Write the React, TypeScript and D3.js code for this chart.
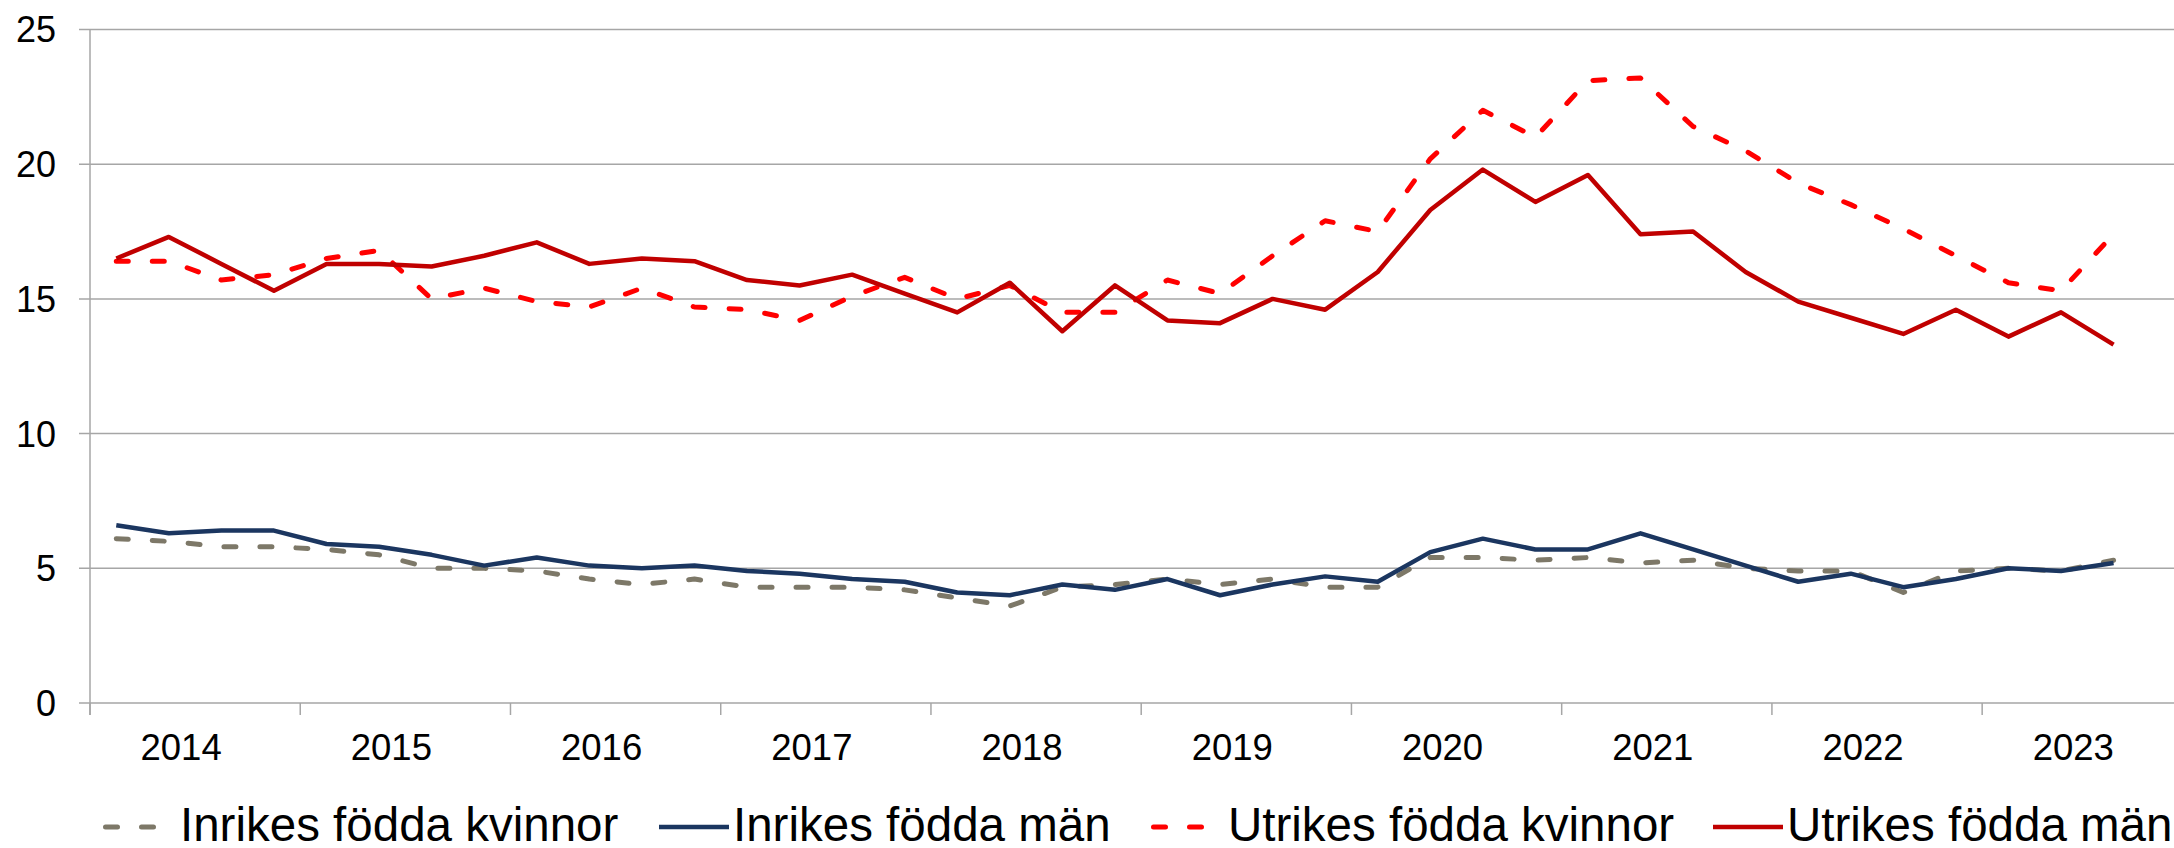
import React, { useEffect } from "react";
import * as d3 from "d3";

// Kvartal 2014 Q1 – 2023 Q3
const years = ["2014", "2015", "2016", "2017", "2018", "2019", "2020", "2021", "2022", "2023"];
const yTicks = [0, 5, 10, 15, 20, 25];

const inrikesKvinnor = [6.1, 6.0, 5.8, 5.8, 5.7, 5.5, 5.0, 5.0, 4.9, 4.6, 4.4, 4.6, 4.3, 4.3, 4.3, 4.2, 3.9, 3.6, 4.3, 4.4, 4.6, 4.4, 4.6, 4.3, 4.3, 5.4, 5.4, 5.3, 5.4, 5.2, 5.3, 5.0, 4.9, 4.9, 4.1, 4.9, 5.0, 4.9, 5.3];
const inrikesMan = [6.6, 6.3, 6.4, 6.4, 5.9, 5.8, 5.5, 5.1, 5.4, 5.1, 5.0, 5.1, 4.9, 4.8, 4.6, 4.5, 4.1, 4.0, 4.4, 4.2, 4.6, 4.0, 4.4, 4.7, 4.5, 5.6, 6.1, 5.7, 5.7, 6.3, 5.7, 5.1, 4.5, 4.8, 4.3, 4.6, 5.0, 4.9, 5.2];
const utrikesKvinnor = [16.4, 16.4, 15.7, 15.9, 16.5, 16.8, 15.0, 15.4, 14.9, 14.7, 15.4, 14.7, 14.6, 14.2, 15.1, 15.8, 15.0, 15.5, 14.5, 14.5, 15.7, 15.2, 16.6, 17.9, 17.5, 20.2, 22.0, 21.0, 23.1, 23.2, 21.4, 20.5, 19.3, 18.5, 17.6, 16.6, 15.6, 15.3, 17.4];
const utrikesMan = [16.5, 17.3, 16.3, 15.3, 16.3, 16.3, 16.2, 16.6, 17.1, 16.3, 16.5, 16.4, 15.7, 15.5, 15.9, 15.2, 14.5, 15.6, 13.8, 15.5, 14.2, 14.1, 15.0, 14.6, 16.0, 18.3, 19.8, 18.6, 19.6, 17.4, 17.5, 16.0, 14.9, 14.3, 13.7, 14.6, 13.6, 14.5, 13.3];

const seriesNames = ["Inrikes födda kvinnor", "Inrikes födda män", "Utrikes födda kvinnor", "Utrikes födda män"];

const W = 2174;
const H = 848;
const font = "'Liberation Sans', Arial, sans-serif";

export default function App() {
  useEffect(() => {
    document.body.style.margin = "0";
  }, []);

  const left = 90;
  const quarterW = 52.56;
  // 40 quarters wide plot, the last year is cut at the picture edge
  const x = d3.scaleLinear().domain([0, 40]).range([left, left + 40 * quarterW]);
  const y = d3.scaleLinear().domain([0, 25]).range([703, 29.5]);

  const line = d3
    .line<number>()
    .x((_, i) => x(i + 0.5))
    .y((d) => y(d));

  const series = [
    { data: inrikesKvinnor, color: "#7d7868", width: 5, dash: "12 24" },
    { data: inrikesMan, color: "#1b3660", width: 4.5, dash: null },
    { data: utrikesKvinnor, color: "#ff0000", width: 5, dash: "12 24" },
    { data: utrikesMan, color: "#c00000", width: 4.5, dash: null },
  ];

  const legendX = [103, 659, 1151, 1713];
  const legendY = 827;

  return (
    <svg width={W} height={H} style={{ display: "block", background: "#fff" }}>
      {/* gridlines and y ticks */}
      {yTicks.map((t) => (
        <g key={t}>
          <line x1={79} x2={W} y1={y(t)} y2={y(t)} stroke="#a6a6a6" strokeWidth={1.5} />
          <text x={56} y={y(t)} dy="0.36em" textAnchor="end" fontFamily={font} fontSize={36} fill="#000">
            {t}
          </text>
        </g>
      ))}
      {/* y axis */}
      <line x1={left} x2={left} y1={y(25)} y2={715} stroke="#a6a6a6" strokeWidth={1.5} />
      {/* year ticks and labels */}
      {years.map((yr, k) => (
        <g key={yr}>
          <line x1={x(4 * k)} x2={x(4 * k)} y1={y(0)} y2={715} stroke="#a6a6a6" strokeWidth={1.5} />
          <text x={x(4 * k + 2) - 14} y={760} textAnchor="middle" fontFamily={font} fontSize={36.5} fill="#000">
            {yr}
          </text>
        </g>
      ))}
      {/* lines */}
      {series.map((s, i) => (
        <path
          key={i}
          d={line(s.data) || ""}
          fill="none"
          stroke={s.color}
          strokeWidth={s.width}
          strokeDasharray={s.dash || undefined}
          strokeLinecap={s.dash ? "round" : "butt"}
          strokeLinejoin="round"
        />
      ))}
      {/* legend */}
      {series.map((s, i) => {
        const lx = legendX[i];
        const len = s.dash ? 54 : 70;
        return (
          <g key={"lg" + i}>
            <line
              x1={s.dash ? lx + 2.5 : lx}
              x2={s.dash ? lx + len - 2.5 : lx + len}
              y1={legendY}
              y2={legendY}
              stroke={s.color}
              strokeWidth={s.width}
              strokeDasharray={s.dash || undefined}
              strokeLinecap={s.dash ? "round" : "butt"}
            />
            <text x={lx + len + (s.dash ? 23 : 4)} y={841} fontFamily={font} fontSize={47.5} fill="#000">
              {seriesNames[i]}
            </text>
          </g>
        );
      })}
    </svg>
  );
}
